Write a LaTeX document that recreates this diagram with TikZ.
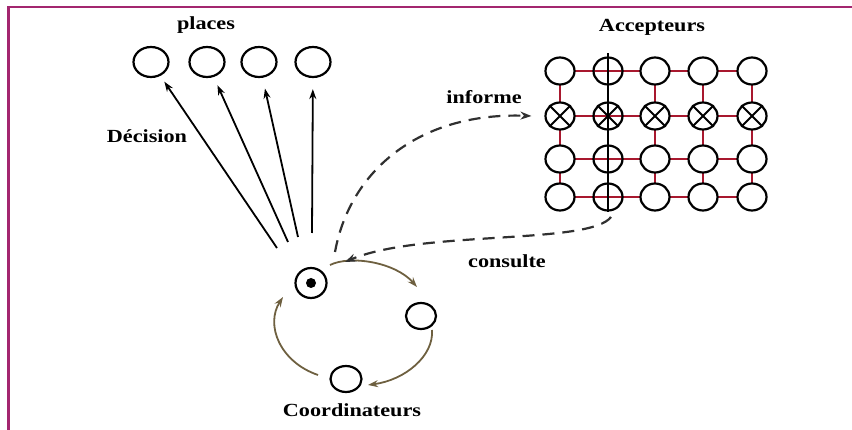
\documentclass[tikz,border=0pt]{standalone}
\usepackage{fontspec}
\setmainfont{Liberation Serif}
\usepackage{graphicx}
\usetikzlibrary{shapes.geometric,arrows.meta,backgrounds}
\definecolor{framecol}{HTML}{A3266F}
\definecolor{gridred}{HTML}{A8182E}
\definecolor{ringcol}{HTML}{6E6040}
\definecolor{dashcol}{HTML}{303030}
\newcommand\wtxt[1]{\scalebox{1.2}[1]{#1}}
\begin{document}
\begin{tikzpicture}[x=1pt,y=-1pt,
  lbl/.style={font=\fontsize{18.5}{21}\selectfont\bfseries, inner sep=0pt},
  place/.style={ellipse, draw, line width=2.2pt, minimum width=35pt, minimum height=30pt, inner sep=0pt},
  cell/.style={ellipse, draw, line width=2.2pt, minimum width=29pt, minimum height=27pt, inner sep=0pt, fill=white},
  opencell/.style={cell, fill=none},
  coordn/.style={ellipse, draw, line width=2.2pt, inner sep=0pt, fill=white},
  arr/.style={line width=1.8pt, -{Stealth[length=10pt,width=7pt]}},
  dasharr/.style={dashcol, line width=2.2pt, dash pattern=on 12pt off 8pt, -{Stealth[length=11pt,width=8pt]}},
  ringarr/.style={ringcol, line width=1.8pt, -{Stealth[length=10pt,width=7pt]}},
  redline/.style={gridred, line width=2pt}]
\useasboundingbox (0,0) rectangle (852,430);
\draw[framecol, line width=2.5pt] (8.5,430) -- (8.5,7) -- (852,7);

% places
\node[place] (p1) at (151,62) {};
\node[place] (p2) at (207,62) {};
\node[place] (p3) at (259,62) {};
\node[place] (p4) at (313,62) {};

% acceptor grid
\foreach \r/\yy in {1/71,2/116,3/159,4/197}{
  \node[cell] (g1\r) at (560,\yy) {};
  \node[opencell] (g2\r) at (608,\yy) {};
  \node[cell] (g3\r) at (655,\yy) {};
  \node[cell] (g4\r) at (703,\yy) {};
  \node[cell] (g5\r) at (752,\yy) {};
}
\begin{scope}[on background layer]
  \foreach \r in {1,2,3,4} \draw[redline] (g1\r.center) -- (g5\r.center);
  \foreach \c in {1,2,3,4,5} \draw[redline] (g\c1.center) -- (g\c4.center);
\end{scope}
\foreach \c in {1,2,3,4,5}
  \draw[line width=1.8pt] (g\c2.45) -- (g\c2.225) (g\c2.135) -- (g\c2.315);
\draw[line width=1.8pt] ([yshift=3pt]g21.north) -- (g24.south);

% coordinators
\node[coordn, minimum width=31pt, minimum height=30pt] (k1) at (311,283) {};
\fill (k1.center) circle[radius=5];
\node[coordn, minimum width=30pt, minimum height=26pt] (k2) at (421,316) {};
\node[coordn, minimum width=31pt, minimum height=26pt] (k3) at (346,379) {};

% decision arrows
\coordinate (t1) at (277,248);
\coordinate (t2) at (288,242);
\coordinate (t3) at (298,237);
\coordinate (t4) at (312,233);
\draw[arr, shorten >=7pt] (t1) -- (p1);
\draw[arr, shorten >=9pt] (t2) -- (p2);
\draw[arr, shorten >=11pt] (t3) -- (p3);
\draw[arr, shorten >=11pt] (t4) -- (p4);

% ring arrows
\coordinate (r1a) at (330,265);
\coordinate (r1b) at (417,287);
\coordinate (r2a) at (432,330);
\coordinate (r2b) at (368,385);
\coordinate (r3a) at (318,375);
\coordinate (r3b) at (283,297);
\draw[ringarr] (r1a) .. controls (350,255) and (395,262) .. (r1b);
\draw[ringarr] (r2a) .. controls (434,356) and (405,380) .. (r2b);
\draw[ringarr] (r3a) .. controls (280,362) and (265,325) .. (r3b);

% dashed connectors
\coordinate (i0) at (335,252);
\coordinate (c0) at (611,217);
\draw[dasharr] (i0) .. controls (350,170) and (420,112) .. ([xshift=-13pt]g12.west);
\draw[dasharr] (c0) .. controls (590,245) and (420,230) .. (345,262);

% labels
\node[lbl] (lplaces) at (206,25) {\wtxt{places}};
\node[lbl] (lacc) at (652,27) {\wtxt{Accepteurs}};
\node[lbl] (ldec) at (147,136) {\wtxt{Décision}};
\node[lbl] (linf) at (484,97) {\wtxt{informe}};
\node[lbl] (lcons) at (507,261) {\wtxt{consulte}};
\node[lbl] (lcoord) at (352,410) {\wtxt{Coordinateurs}};
\end{tikzpicture}
\end{document}
